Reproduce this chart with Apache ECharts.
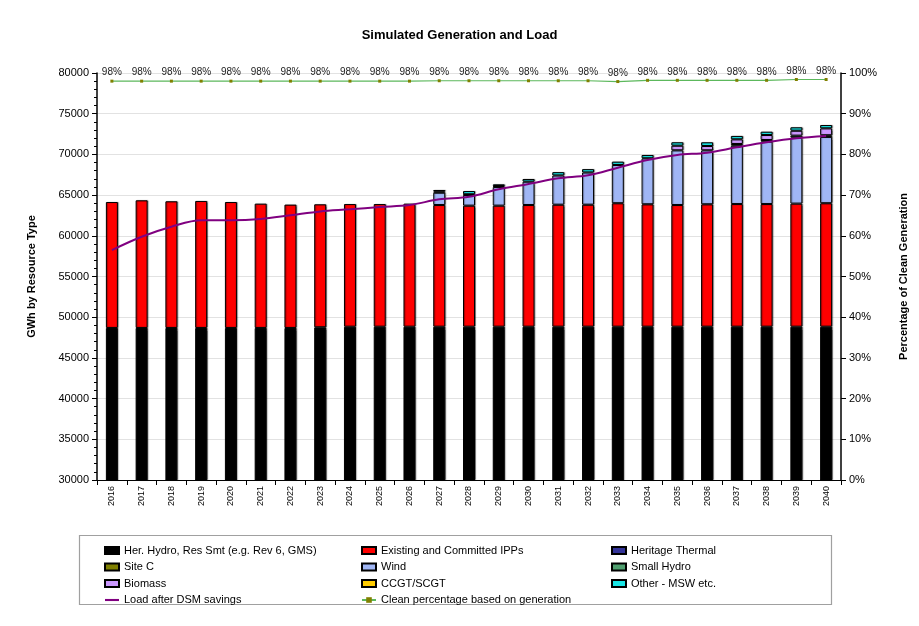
<!DOCTYPE html>
<html>
<head>
<meta charset="utf-8">
<script src="https://cdn.jsdelivr.net/npm/echarts@6/dist/echarts.min.js"></script>
<style>html,body{margin:0;padding:0;background:#fff}#c{width:919px;height:626px}</style>
</head>
<body>
<div id="c"></div>
<script>
const years = ['2016','2017','2018','2019','2020','2021','2022','2023','2024','2025','2026','2027','2028','2029','2030','2031','2032','2033','2034','2035','2036','2037','2038','2039','2040'];
const herHydro = [48680,48680,48680,48680,48680,48680,48680,48760,48830,48830,48830,48830,48830,48830,48830,48830,48830,48830,48830,48830,48830,48830,48830,48830,48830];
const ipps = [15470,15680,15560,15600,15470,15270,15150,15110,15070,15070,15120,14950,14870,14870,14950,14990,14990,15170,15040,14950,15040,15070,15070,15120,15170];
const heritageThermal = [0,0,0,0,0,0,0,0,0,0,0,0,0,0,0,0,0,0,0,0,0,0,0,0,0];
const siteC = [0,0,0,0,0,0,0,0,0,0,0,0,0,0,0,0,0,0,0,0,0,0,0,0,0];
const wind = [0,0,0,0,0,0,0,0,0,0,0,1520,1310,2300,2870,3590,3960,4700,5650,6720,6630,7170,7670,8110,8150];
const smallHydro = [0,0,0,0,0,0,0,0,0,0,0,150,90,120,0,0,0,0,0,0,0,210,200,240,200];
const biomass = [0,0,0,0,0,0,0,0,0,0,0,0,0,0,0,0,0,0,0,570,530,570,610,610,850];
const ccgt = [0,0,0,0,0,0,0,0,0,0,0,0,0,0,0,0,0,0,0,0,0,0,0,0,0];
const otherMsw = [0,0,0,0,0,0,0,0,0,0,0,180,400,200,330,410,410,410,410,420,460,420,410,420,410];
const loadDsm = [58250,59890,61120,61900,61900,62060,62520,63000,63250,63540,63780,64480,64800,65710,66360,67060,67430,68370,69310,69930,70210,70870,71490,71980,72260];
const cleanPct = [98.0,98.0,98.0,98.0,98.0,98.0,98.0,98.0,98.0,98.0,98.0,98.1,98.1,98.1,98.1,98.1,98.1,97.9,98.2,98.2,98.2,98.2,98.2,98.4,98.4];
const leftTicks = {min:30000, max:80000, interval:5000};
const rightTicks = {min:0, max:100, interval:10};

const FONT = 'Liberation Sans';
const chart = echarts.init(document.getElementById('c'), null, {renderer:'canvas'});

function nz(a){ return a.map(v => v === 0 ? '-' : v); }
function bar(name, data, color){
  return {type:'bar', stack:'gen', barWidth:12, yAxisIndex:0, emphasis:{disabled:true},
    name, data:nz(data),
    itemStyle:{color, borderColor:'#000', borderWidth:1,
      shadowColor:'rgba(0,0,0,0.35)', shadowBlur:1, shadowOffsetX:1, shadowOffsetY:0}};
}
const lineIcon = 'path://M0,0L40,0L40,6L0,6Z';
const legendCommon = {orient:'vertical', top:539, itemWidth:14, itemHeight:7, itemGap:3.5, itemTextGap:2,
  selectedMode:false, textStyle:{fontFamily:FONT, fontSize:11, color:'#000', lineHeight:13}};
const R = n => ({name:n, icon:'rect'});

const option = {
  animation:false,
  backgroundColor:'#fff',
  textStyle:{fontFamily:FONT},
  title:{text:'Simulated Generation and Load', left:'center', top:24,
    textStyle:{fontFamily:FONT, fontSize:13, fontWeight:'bold', color:'#000'}},
  grid:{left:97, right:78, top:73, bottom:146, containLabel:false},
  legend:[
    Object.assign({left:99, data:[R('Her. Hydro, Res Smt (e.g. Rev 6, GMS)'), R('Site C'), R('Biomass'),
      {name:'Load after DSM savings', icon:lineIcon}]}, legendCommon),
    Object.assign({left:356, data:[R('Existing and Committed IPPs'), R('Wind'), R('CCGT/SCGT'),
      'Clean percentage based on generation']}, legendCommon),
    Object.assign({left:606, data:[R('Heritage Thermal'), R('Small Hydro'), R('Other - MSW etc.')]}, legendCommon)
  ],
  graphic:[
    {type:'rect', shape:{x:79.5, y:535.5, width:752, height:69}, style:{fill:'none', stroke:'#a0a0a0', lineWidth:1.2}, silent:true, z:-1}
  ],
  xAxis:{type:'category', data:years, boundaryGap:true,
    axisLine:{lineStyle:{color:'#000', width:1}},
    axisTick:{show:true, length:5, lineStyle:{color:'#000'}},
    axisLabel:{rotate:90, fontSize:9, color:'#000', fontFamily:FONT, margin:6},
    splitLine:{show:false}},
  yAxis:[
    {type:'value', min:leftTicks.min, max:leftTicks.max, interval:leftTicks.interval,
     name:'GWh by Resource Type', nameLocation:'middle', nameGap:60, nameRotate:90,
     nameTextStyle:{fontFamily:FONT, fontSize:11, fontWeight:'bold', color:'#000'},
     axisLine:{show:true, lineStyle:{color:'#000', width:1.5}},
     axisTick:{show:true, length:5, lineStyle:{color:'#000'}},
     minorTick:{show:true, splitNumber:5, length:3, lineStyle:{color:'#000'}},
     axisLabel:{fontSize:11, color:'#000', fontFamily:FONT, margin:8, formatter:v => String(v)},
     splitLine:{show:true, lineStyle:{color:'#e2e2e2', width:1}}},
    {type:'value', min:rightTicks.min, max:rightTicks.max, interval:rightTicks.interval, position:'right',
     name:'Percentage of Clean Generation', nameLocation:'middle', nameGap:57, nameRotate:90,
     nameTextStyle:{fontFamily:FONT, fontSize:11, fontWeight:'bold', color:'#000'},
     axisLine:{show:true, lineStyle:{color:'#000', width:1.5}},
     axisTick:{show:true, length:5, lineStyle:{color:'#000'}},
     axisLabel:{fontSize:11, color:'#000', fontFamily:FONT, margin:8, formatter:'{value}%'},
     splitLine:{show:false}}
  ],
  series:[
    bar('Her. Hydro, Res Smt (e.g. Rev 6, GMS)', herHydro, '#000000'),
    bar('Existing and Committed IPPs', ipps, '#ff0000'),
    bar('Heritage Thermal', heritageThermal, '#333399'),
    bar('Site C', siteC, '#808000'),
    bar('Wind', wind, '#a0b6f5'),
    bar('Small Hydro', smallHydro, '#4f9f6f'),
    bar('Biomass', biomass, '#cc99ff'),
    bar('CCGT/SCGT', ccgt, '#ffcc00'),
    bar('Other - MSW etc.', otherMsw, '#19e6e6'),
    {type:'line', name:'Load after DSM savings', data:loadDsm, yAxisIndex:0, smooth:0.35,
     symbol:'none', lineStyle:{color:'#800080', width:2}, itemStyle:{color:'#800080'}, z:5},
    {type:'line', name:'Clean percentage based on generation', data:cleanPct, yAxisIndex:1,
     symbol:'rect', symbolSize:3, showSymbol:true,
     lineStyle:{color:'#5cb85c', width:1.2}, itemStyle:{color:'#808000'},
     label:{show:true, position:'top', distance:2, fontSize:10, color:'#222', fontFamily:FONT,
       formatter:p => Math.round(p.value) + '%'}, z:6}
  ]
};
chart.setOption(option);
</script>
</body>
</html>
